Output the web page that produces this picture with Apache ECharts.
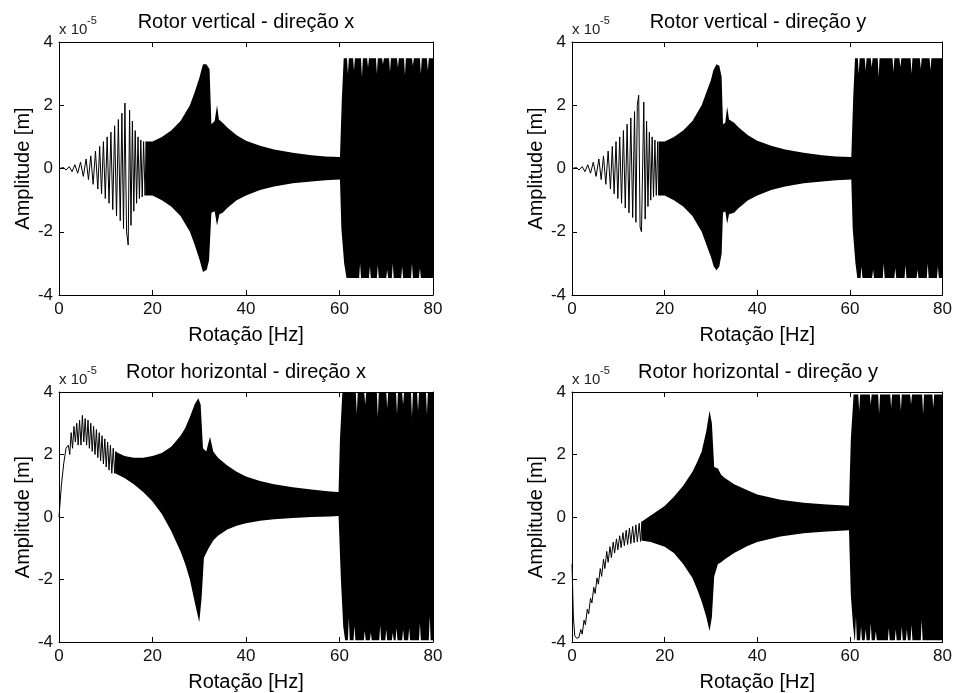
<!DOCTYPE html>
<html>
<head>
<meta charset="utf-8">
<script src="https://cdn.jsdelivr.net/npm/echarts@6/dist/echarts.min.js"></script>
<style>
  html, body { margin: 0; padding: 0; background: #fff; }
  #chart { width: 955px; height: 693px; }
</style>
</head>
<body>
<div id="chart"></div>
<script>
// Amplitudes in units of 1e-5 m, rotation in Hz.
const titles = [
  'Rotor vertical - direção x',
  'Rotor vertical - direção y',
  'Rotor horizontal - direção x',
  'Rotor horizontal - direção y'
];
const xTicks = [0, 20, 40, 60, 80];
const yTicks = [-4, -2, 0, 2, 4];

// Resolvable oscillation turning points [Hz, amplitude] at low rotation
const vxRipple = [[0,0],[1,0.03],[1.5,-0.05],[2.2,0.06],[2.8,-0.1],[3.4,0.12],[4,-0.15],[4.6,0.2],[5.2,-0.25],[5.8,0.3],[6.3,-0.35],[6.8,0.4],[7.3,-0.5],[7.8,0.55],[8.3,-0.65],[8.7,0.7],[9.1,-0.8],[9.5,0.85],[9.9,-0.95],[10.3,1.0],[10.7,-1.1],[11.1,1.15],[11.5,-1.3],[11.9,1.35],[12.3,-1.5],[12.7,1.55],[13.1,-1.65],[13.45,1.75],[13.8,-1.9],[14.1,2.07],[14.45,-2.0],[14.8,-2.42],[15.1,1.85],[15.4,-1.8],[15.7,1.5],[16.0,-1.35],[16.3,1.2],[16.6,-1.1],[16.9,1.0],[17.2,-0.95],[17.5,0.9],[17.8,-0.9],[18.1,0.85],[18.4,-0.85],[18.7,0.85]];
const vyRipple = [[0,0],[1,0.03],[1.5,-0.05],[2.2,0.06],[2.8,-0.1],[3.4,0.12],[4,-0.15],[4.6,0.2],[5.2,-0.25],[5.8,0.3],[6.3,-0.35],[6.8,0.4],[7.3,-0.5],[7.8,0.55],[8.3,-0.65],[8.7,0.7],[9.1,-0.8],[9.5,0.85],[9.9,-0.95],[10.3,1.0],[10.7,-1.1],[11.1,1.2],[11.5,-1.25],[11.9,1.4],[12.3,-1.4],[12.7,1.6],[13.1,-1.55],[13.5,1.8],[13.8,-1.7],[14.1,2.0],[14.4,2.32],[14.7,-1.85],[15.0,-2.0],[15.5,2.1],[15.8,-1.6],[16.1,1.5],[16.4,-1.2],[16.7,1.15],[17.0,-1.0],[17.3,1.0],[17.6,-0.9],[17.9,0.9],[18.2,-0.85],[18.5,0.85],[18.7,-0.85]];
const hxRipple = [[0,0],[0.5,1.0],[1,1.7],[1.5,2.2],[2,2.3],[2.3,2.0],[2.6,2.7],[2.9,2.2],[3.2,2.9],[3.5,2.4],[3.8,3.0],[4.1,2.3],[4.4,3.1],[4.7,2.3],[5,3.25],[5.3,2.4],[5.6,3.15],[5.9,2.3],[6.2,3.1],[6.5,2.2],[6.8,3.0],[7.1,2.1],[7.4,2.9],[7.7,2.0],[8,2.8],[8.3,1.9],[8.6,2.7],[8.9,1.8],[9.2,2.6],[9.5,1.7],[9.8,2.5],[10.1,1.6],[10.4,2.4],[10.7,1.5],[11,2.3],[11.3,1.4],[11.6,2.2],[11.9,1.4],[12.2,2.1]];
const hyRipple = [[0,-1.5],[0.3,-3.2],[0.6,-3.8],[1.0,-3.88],[1.5,-3.85],[1.9,-3.6],[2.2,-3.75],[2.6,-3.3],[2.9,-3.45],[3.3,-2.95],[3.6,-3.1],[4.0,-2.6],[4.3,-2.75],[4.7,-2.25],[5.0,-2.45],[5.4,-1.95],[5.7,-2.15],[6.1,-1.65],[6.4,-1.9],[6.8,-1.35],[7.1,-1.65],[7.5,-1.1],[7.8,-1.45],[8.2,-0.95],[8.5,-1.3],[8.9,-0.8],[9.2,-1.15],[9.6,-0.7],[9.9,-1.05],[10.3,-0.6],[10.6,-0.98],[11.0,-0.5],[11.3,-0.92],[11.7,-0.42],[12.0,-0.88],[12.4,-0.35],[12.7,-0.85],[13.1,-0.3],[13.4,-0.82],[13.8,-0.25],[14.1,-0.8],[14.5,-0.2],[14.8,-0.78],[15.1,-0.15]];

// Upper and lower envelopes [Hz, amplitude] of the densely oscillating response
const vxUpper = [[18.5,0.85],[20,0.85],[22,1.0],[24,1.2],[26,1.5],[28,2.0],[29,2.4],[30,2.85],[30.8,3.3],[31.5,3.3],[32.2,3.15],[32.6,1.4],[33.3,1.5],[33.8,2.0],[34.2,1.55],[35,1.45],[36,1.3],[38,1.05],[40,0.88],[43,0.72],[46,0.6],[50,0.5],[54,0.42],[57,0.38],[60.1,0.36],[60.5,2.2],[60.9,3.49],[61.6,3.49],[61.8,3.0],[62.0,3.49],[62.9,3.49],[63.1,3.1],[63.3,3.49],[64.6,3.49],[64.8,2.9],[65.0,3.49],[65.9,3.49],[66.1,3.2],[66.3,3.49],[67.8,3.49],[68.0,3.0],[68.2,3.49],[69.1,3.49],[69.3,3.3],[69.5,3.49],[70.6,3.49],[70.8,3.05],[71.0,3.49],[72.3,3.49],[72.5,3.2],[72.7,3.49],[73.8,3.49],[74.0,2.95],[74.2,3.49],[75.5,3.49],[75.7,3.25],[75.9,3.49],[77.2,3.49],[77.4,3.0],[77.6,3.49],[78.7,3.49],[78.9,3.1],[79.1,3.49],[80,3.49]];
const vxLower = [[18.5,-0.85],[20,-0.85],[22,-1.0],[24,-1.2],[26,-1.5],[28,-2.0],[29,-2.4],[30,-2.85],[30.8,-3.27],[31.6,-3.2],[32.1,-2.9],[32.6,-1.4],[33.3,-1.35],[33.8,-1.8],[34.3,-1.45],[35,-1.4],[36,-1.25],[38,-1.0],[40,-0.85],[43,-0.68],[46,-0.57],[50,-0.47],[54,-0.41],[57,-0.37],[60.1,-0.35],[60.4,-1.9],[61.0,-3.0],[61.5,-3.46],[64.2,-3.46],[64.4,-3.0],[64.6,-3.46],[66.3,-3.46],[66.5,-3.1],[66.7,-3.46],[68.0,-3.46],[68.2,-3.05],[68.4,-3.46],[70.0,-3.46],[70.2,-3.2],[70.4,-3.46],[71.2,-3.46],[71.4,-3.0],[71.6,-3.46],[73.2,-3.46],[73.4,-3.1],[73.6,-3.46],[75.3,-3.46],[75.5,-3.0],[75.7,-3.46],[77.0,-3.46],[77.2,-3.15],[77.4,-3.46],[80,-3.46]];

const vyUpper = [[18.7,0.85],[20,0.85],[22,1.0],[24,1.2],[26,1.5],[28,2.0],[29,2.4],[30,2.8],[30.5,3.1],[31.2,3.3],[31.8,3.25],[32.3,2.9],[32.6,1.4],[33.1,1.45],[33.5,1.95],[33.9,1.55],[35,1.45],[36,1.3],[38,1.05],[40,0.88],[43,0.72],[46,0.6],[50,0.5],[54,0.42],[57,0.38],[60.3,0.36],[60.7,2.2],[61.1,3.49],[61.7,3.49],[61.9,3.0],[62.1,3.49],[63.2,3.49],[63.4,3.1],[63.6,3.49],[64.5,3.49],[64.7,3.2],[64.9,3.49],[66.0,3.49],[66.2,2.9],[66.4,3.49],[69.2,3.49],[69.4,3.05],[69.6,3.49],[70.7,3.49],[70.9,3.2],[71.1,3.49],[73.1,3.49],[73.3,3.0],[73.5,3.49],[75.1,3.49],[75.3,3.15],[75.5,3.49],[77.2,3.49],[77.4,3.1],[77.6,3.49],[80,3.49]];
const vyLower = [[18.7,-0.85],[20,-0.85],[22,-1.0],[24,-1.2],[26,-1.5],[28,-2.0],[29,-2.4],[30,-2.8],[30.6,-3.1],[31.2,-3.22],[31.8,-3.1],[32.3,-2.7],[32.6,-1.4],[33.1,-1.35],[33.5,-1.75],[33.9,-1.45],[35,-1.4],[36,-1.25],[38,-1.0],[40,-0.85],[43,-0.68],[46,-0.57],[50,-0.47],[54,-0.41],[57,-0.37],[60.3,-0.35],[60.6,-1.9],[61.2,-3.0],[61.6,-3.46],[62.3,-3.46],[62.5,-3.1],[62.7,-3.46],[64.8,-3.46],[65.0,-3.2],[65.2,-3.46],[67.1,-3.46],[67.3,-3.0],[67.5,-3.46],[69.6,-3.46],[69.8,-3.15],[70.0,-3.46],[71.8,-3.46],[72.0,-3.05],[72.2,-3.46],[74.4,-3.46],[74.6,-3.2],[74.8,-3.46],[76.6,-3.46],[76.8,-3.0],[77.0,-3.46],[78.8,-3.46],[79.0,-3.1],[79.2,-3.46],[80,-3.46]];

const hxUpper = [[12,2.1],[14,1.95],[16,1.9],[18,1.9],[20,1.95],[22,2.05],[24,2.25],[26,2.6],[27,2.85],[28,3.2],[29,3.6],[29.8,3.8],[30.3,3.6],[30.8,2.2],[31.5,2.1],[32.3,2.57],[33,2.1],[34,1.9],[36,1.65],[38,1.45],[40,1.3],[43,1.15],[46,1.05],[50,0.95],[54,0.88],[58,0.82],[59.8,0.8],[60.1,2.5],[60.6,3.97],[63.5,3.97],[63.7,3.3],[63.9,3.97],[65.3,3.97],[65.5,3.6],[65.7,3.97],[68.0,3.97],[68.2,3.2],[68.4,3.97],[70.0,3.97],[70.2,3.5],[70.4,3.97],[72.1,3.97],[72.3,3.3],[72.5,3.97],[73.4,3.97],[73.6,3.6],[73.8,3.97],[75.3,3.97],[75.5,3.2],[75.7,3.97],[76.6,3.97],[76.8,3.4],[77.0,3.97],[78.5,3.97],[78.7,3.3],[78.9,3.97],[80,3.97]];
const hxLower = [[12,1.4],[14,1.25],[16,1.05],[18,0.8],[20,0.5],[22,0.1],[24,-0.45],[26,-1.1],[27,-1.5],[28,-2.0],[29,-2.7],[30,-3.37],[30.5,-2.6],[31,-1.3],[32,-1.0],[33,-0.75],[34,-0.6],[36,-0.4],[38,-0.28],[40,-0.2],[43,-0.12],[46,-0.07],[50,-0.03],[54,0.0],[58,0.02],[59.8,0.03],[60.3,-2.0],[60.8,-3.5],[61.2,-3.94],[61.8,-3.94],[62.0,-3.24],[62.2,-3.94],[63.0,-3.94],[63.2,-3.49],[63.4,-3.94],[65.2,-3.94],[65.4,-3.65],[65.6,-3.94],[66.5,-3.94],[66.7,-3.7],[66.9,-3.94],[68.5,-3.94],[68.7,-3.46],[68.9,-3.94],[69.8,-3.94],[70.0,-3.6],[70.2,-3.94],[71.2,-3.94],[71.4,-3.7],[71.6,-3.94],[72.0,-3.94],[72.2,-3.55],[72.4,-3.94],[73.4,-3.94],[73.6,-3.6],[73.8,-3.94],[74.7,-3.94],[74.9,-3.55],[75.1,-3.94],[77.0,-3.94],[77.2,-3.4],[77.4,-3.94],[79.1,-3.94],[79.3,-3.17],[79.5,-3.94],[80,-3.94]];

const hyUpper = [[15,-0.15],[17,0.05],[20,0.35],[22,0.65],[24,1.0],[26,1.45],[27,1.75],[28,2.1],[29,2.75],[29.7,3.4],[30.2,3.0],[30.7,1.6],[31.5,1.55],[32.2,1.35],[33,1.25],[35,1.05],[38,0.85],[40,0.72],[45,0.55],[50,0.46],[55,0.4],[59.8,0.36],[60.2,2.5],[60.8,3.92],[61.8,3.92],[62.0,3.4],[62.2,3.92],[64.3,3.92],[64.5,3.6],[64.7,3.92],[66.1,3.92],[66.3,3.3],[66.5,3.92],[68.7,3.92],[68.9,3.5],[69.1,3.92],[70.8,3.92],[71.0,3.4],[71.2,3.92],[73.0,3.92],[73.2,3.6],[73.4,3.92],[75.6,3.92],[75.8,3.3],[76.0,3.92],[77.8,3.92],[78.0,3.5],[78.2,3.92],[80,3.92]];
const hyLower = [[15,-0.75],[17,-0.8],[20,-0.95],[22,-1.15],[24,-1.5],[26,-1.95],[27,-2.3],[28,-2.7],[29,-3.2],[29.7,-3.65],[30.2,-3.2],[30.7,-1.9],[31.5,-1.5],[32.2,-1.45],[33,-1.35],[35,-1.15],[38,-0.92],[40,-0.8],[45,-0.62],[50,-0.52],[55,-0.46],[59.8,-0.42],[60.2,-2.5],[60.7,-3.5],[61.0,-3.94],[61.1,-3.94],[61.3,-3.2],[61.5,-3.94],[62.2,-3.94],[62.4,-3.5],[62.6,-3.94],[63.2,-3.94],[63.4,-3.6],[63.6,-3.94],[64.3,-3.94],[64.5,-3.4],[64.7,-3.94],[65.4,-3.94],[65.6,-3.65],[65.8,-3.94],[68.2,-3.94],[68.4,-3.55],[68.6,-3.94],[69.7,-3.94],[69.9,-3.6],[70.1,-3.94],[71.0,-3.94],[71.2,-3.5],[71.4,-3.94],[72.1,-3.94],[72.3,-3.6],[72.5,-3.94],[73.1,-3.94],[73.3,-3.45],[73.5,-3.94],[75.3,-3.94],[75.5,-3.3],[75.7,-3.94],[80,-3.94]];

const panels = [
  { ripple: vxRipple, upper: vxUpper, lower: vxLower },
  { ripple: vyRipple, upper: vyUpper, lower: vyLower },
  { ripple: hxRipple, upper: hxUpper, lower: hxLower },
  { ripple: hyRipple, upper: hyUpper, lower: hyLower }
];

const FONT = 'Liberation Sans, Arial, sans-serif';
const boxes = [
  { left: 59,  top: 42,  width: 374, height: 253 },
  { left: 572, top: 42,  width: 372, height: 253 },
  { left: 59,  top: 392, width: 374, height: 252 },
  { left: 572, top: 392, width: 372, height: 252 }
];

const grid = [], xAxis = [], yAxis = [], series = [], graphic = [];

// Filled band between the upper and lower envelopes, mapped through the axes
function bandRenderer(p) {
  return function (params, api) {
    if (params.dataIndex !== 0) return null;
    const pts = [];
    p.upper.forEach(d => pts.push(api.coord(d)));
    for (let k = p.lower.length - 1; k >= 0; k--) pts.push(api.coord(p.lower[k]));
    return {
      type: 'polygon',
      shape: { points: pts },
      style: { fill: '#000', stroke: null }
    };
  };
}

boxes.forEach((b, i) => {
  grid.push(Object.assign({ show: false }, b));
  const tickStyle = { show: true, inside: true, length: 5, lineStyle: { color: '#000', width: 1 } };
  const line = { show: true, onZero: false, lineStyle: { color: '#000', width: 1 } };
  xAxis.push({
    gridIndex: i, type: 'value', min: 0, max: 80, interval: 20, position: 'bottom',
    axisLine: line, axisTick: tickStyle,
    axisLabel: { color: '#111', fontFamily: FONT, fontSize: 17, margin: 6 },
    splitLine: { show: false },
    name: 'Rotação [Hz]', nameLocation: 'middle', nameGap: 30,
    nameTextStyle: { color: '#000', fontFamily: FONT, fontSize: 20 }
  });
  xAxis.push({
    gridIndex: i, type: 'value', min: 0, max: 80, interval: 20, position: 'top',
    axisLine: line, axisTick: tickStyle,
    axisLabel: { show: false }, splitLine: { show: false }
  });
  yAxis.push({
    gridIndex: i, type: 'value', min: -4, max: 4, interval: 2, position: 'left',
    axisLine: line, axisTick: tickStyle,
    axisLabel: { color: '#111', fontFamily: FONT, fontSize: 17, margin: 6 },
    splitLine: { show: false },
    name: 'Amplitude [m]', nameLocation: 'middle', nameGap: 24, nameRotate: 90,
    nameTextStyle: { color: '#000', fontFamily: FONT, fontSize: 20 }
  });
  yAxis.push({
    gridIndex: i, type: 'value', min: -4, max: 4, interval: 2, position: 'right',
    axisLine: line, axisTick: tickStyle,
    axisLabel: { show: false }, splitLine: { show: false }
  });

  const p = panels[i];
  const xi = i * 2, yi = i * 2;
  series.push({
    type: 'custom', xAxisIndex: xi, yAxisIndex: yi, silent: true, clip: true,
    renderItem: bandRenderer(p),
    encode: { x: 0, y: 1 },
    data: p.upper.concat(p.lower)
  });
  series.push({
    type: 'line', xAxisIndex: xi, yAxisIndex: yi, symbol: 'none', silent: true,
    lineStyle: { color: '#000', width: 1 }, data: p.ripple
  });

  // title and exponent marker
  graphic.push({
    type: 'text', x: b.left + b.width / 2, y: b.top - 20,
    style: { text: titles[i], font: '20px ' + FONT, fill: '#000', textAlign: 'center', textVerticalAlign: 'middle' }
  });
  graphic.push({
    type: 'text', x: b.left, y: b.top - 20,
    style: { text: 'x 10', font: '15px ' + FONT, fill: '#222' }
  });
  graphic.push({
    type: 'text', x: b.left + 28, y: b.top - 27,
    style: { text: '-5', font: '11px ' + FONT, fill: '#222' }
  });
});

const chart = echarts.init(document.getElementById('chart'), null, { renderer: 'canvas' });
chart.setOption({
  animation: false,
  backgroundColor: '#fff',
  grid, xAxis, yAxis, series, graphic
});
</script>
</body>
</html>
